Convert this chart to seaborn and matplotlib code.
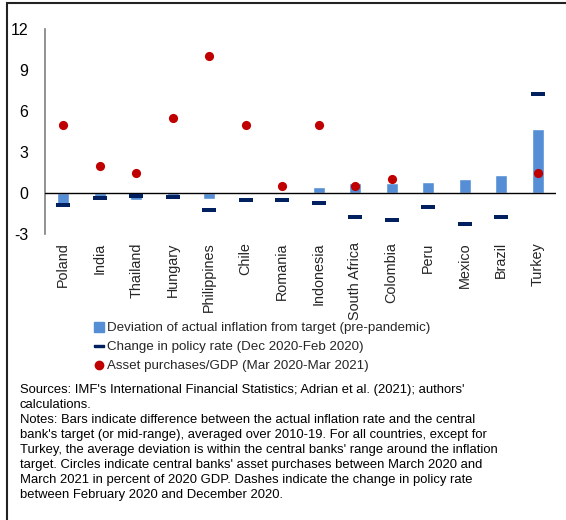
import numpy as np
import pandas as pd
import matplotlib
matplotlib.use("Agg")
import matplotlib.pyplot as plt
from matplotlib.lines import Line2D
from matplotlib.patches import Rectangle
import seaborn as sns

countries = ["Poland", "India", "Thailand", "Hungary", "Philippines", "Chile", "Romania",
             "Indonesia", "South Africa", "Colombia", "Peru", "Mexico", "Brazil", "Turkey"]
deviation = [-0.8, -0.5, -0.5, -0.3, -0.45, -0.08, 0.1, 0.45, 0.7, 0.75, 0.8, 1.0, 1.35, 4.7]
policy_change = [-0.9, -0.4, -0.25, -0.3, -1.25, -0.5, -0.5, -0.75, -1.75, -2.0, -1.0, -2.25, -1.75, 7.25]
asset_countries = ["Poland", "India", "Thailand", "Hungary", "Philippines", "Chile", "Romania",
                   "Indonesia", "South Africa", "Colombia", "Turkey"]
asset_purchases = [5.0, 2.0, 1.5, 5.5, 10.0, 5.0, 0.5, 5.0, 0.5, 1.0, 1.5]
yticks = [-3, 0, 3, 6, 9, 12]

legend_labels = ["Deviation of actual inflation from target (pre-pandemic)",
                 "Change in policy rate (Dec 2020-Feb 2020)",
                 "Asset purchases/GDP (Mar 2020-Mar 2021)"]
note_text = ("Sources: IMF's International Financial Statistics; Adrian et al. (2021); authors'\n"
             "calculations.\n"
             "Notes: Bars indicate difference between the actual inflation rate and the central\n"
             "bank's target (or mid-range), averaged over 2010-19. For all countries, except for\n"
             "Turkey, the average deviation is within the central banks' range around the inflation\n"
             "target. Circles indicate central banks' asset purchases between March 2020 and\n"
             "March 2021 in percent of 2020 GDP. Dashes indicate the change in policy rate\n"
             "between February 2020 and December 2020.")

BAR = "#558ED5"
DASH = "#002060"
DOT = "#C00000"

sns.set_theme(style="white")
plt.rcParams["font.family"] = ["Liberation Sans", "DejaVu Sans"]

fig = plt.figure(figsize=(5.66, 5.2), dpi=100)
ax = fig.add_axes([45 / 566, 1 - 234 / 520, (556 - 45) / 566, (234 - 29) / 520])

df_bar = pd.DataFrame({"country": countries, "deviation": deviation, "policy": policy_change})
df_dot = pd.DataFrame({"country": asset_countries, "assets": asset_purchases})

sns.barplot(data=df_bar, x="country", y="deviation", color=BAR, width=0.33,
            saturation=1, ax=ax, order=countries, zorder=2)

dash_marker = [(-1, -0.28), (1, -0.28), (1, 0.28), (-1, 0.28), (-1, -0.28)]
sns.stripplot(data=df_bar, x="country", y="policy", order=countries, jitter=False,
              marker=dash_marker, size=10.5, color=DASH, linewidth=0, ax=ax, zorder=4)
sns.stripplot(data=df_dot, x="country", y="assets", order=countries, jitter=False,
              marker="o", size=6.6, color=DOT, linewidth=0, ax=ax, zorder=5)

ax.axhline(0, color="black", lw=1.0, zorder=3)
ax.set_xlim(-0.5, len(countries) - 0.5)
ax.set_ylim(-3, 12)
ax.set_yticks(yticks)
ax.set_yticklabels([str(t) for t in yticks], fontsize=11.5)
ax.tick_params(axis="y", length=0, pad=12, colors="#000000")
ax.tick_params(axis="x", length=0, pad=6)
ax.set_xticks(range(len(countries)))
ax.set_xticklabels(countries, rotation=90, fontsize=10.4, va="top", ha="center")
ax.set_xlabel("")
ax.set_ylabel("")
for s in ["top", "right", "bottom"]:
    ax.spines[s].set_visible(False)
ax.spines["left"].set_color("#7f7f7f")
ax.spines["left"].set_linewidth(1.2)

handles = [Line2D([], [], marker="s", linestyle="none", color=BAR, markersize=6.5),
           Line2D([], [], marker=dash_marker, linestyle="none", color=DASH, markersize=7),
           Line2D([], [], marker="o", linestyle="none", color=DOT, markersize=6)]
fig.legend(handles, legend_labels, loc="upper left", bbox_to_anchor=(95 / 566, 1 - 322 / 520),
           frameon=False, fontsize=9.6, handlelength=0.6, handletextpad=0.3,
           labelspacing=0.5, borderpad=0, borderaxespad=0)

fig.text(20 / 566, 1 - 384 / 520, note_text, ha="left", va="top", fontsize=9.4,
         linespacing=1.33, color="#000000")

fig.patches.append(Rectangle((7 / 566, -0.1), 1.2, 1 - 2.5 / 520 + 0.1, transform=fig.transFigure,
                             fill=False, edgecolor="#222222", linewidth=1.5))

fig.savefig("out.png", dpi=100)
